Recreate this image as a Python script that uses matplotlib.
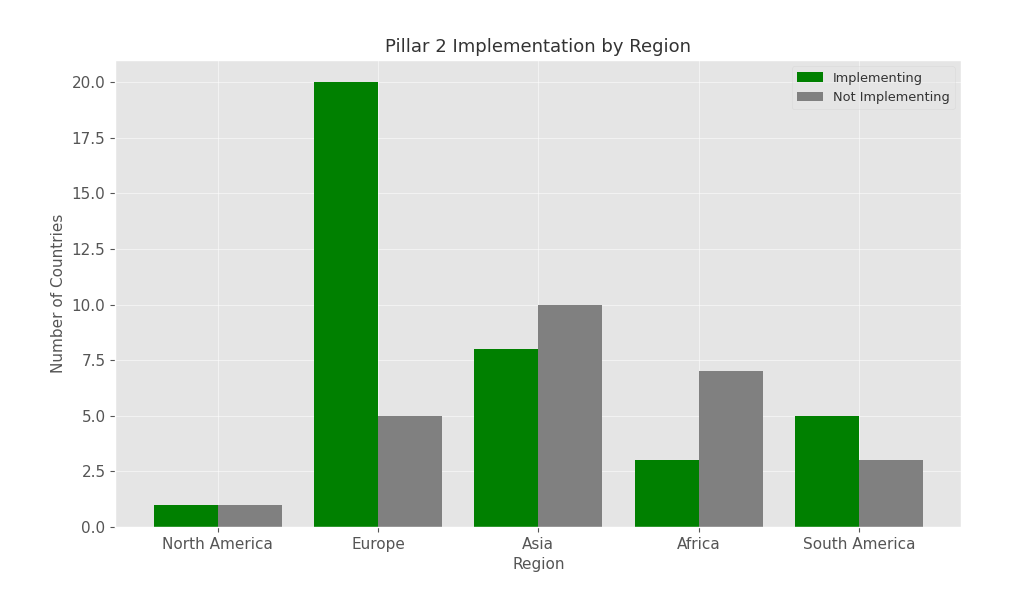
import numpy as np
import matplotlib
matplotlib.use("Agg")
import matplotlib.pyplot as plt

plt.style.use("ggplot")

regions = ["North America", "Europe", "Asia", "Africa", "South America"]
implementing = [1, 20, 8, 3, 5]
not_implementing = [1, 5, 10, 7, 3]

x = np.arange(len(regions))
width = 0.4

fig = plt.figure(figsize=(10.11, 6.05), dpi=100)
ax = fig.add_axes([0.114, 0.129, 0.837, 0.772])

ax.bar(x - width / 2, implementing, width, color="green", label="Implementing")
ax.bar(x + width / 2, not_implementing, width, color="gray", label="Not Implementing")

ax.set_xticks(x)
ax.set_xticklabels(regions, fontsize=11)
ax.tick_params(axis="y", labelsize=11)
ax.set_yticks(np.arange(0, 22.5, 2.5))
ax.yaxis.set_major_formatter(matplotlib.ticker.FormatStrFormatter("%.1f"))
ax.grid(True, alpha=0.5)
ax.set_xlabel("Region", fontsize=11, color="#555555")
ax.set_ylabel("Number of Countries", fontsize=11, color="#555555")
ax.set_title("Pillar 2 Implementation by Region", fontsize=13, color="#333333")
leg = ax.legend(loc="upper right", fontsize=9.3, framealpha=0.4)
for t in leg.get_texts():
    t.set_color("#333333")

fig.savefig("out.png", dpi=100)
